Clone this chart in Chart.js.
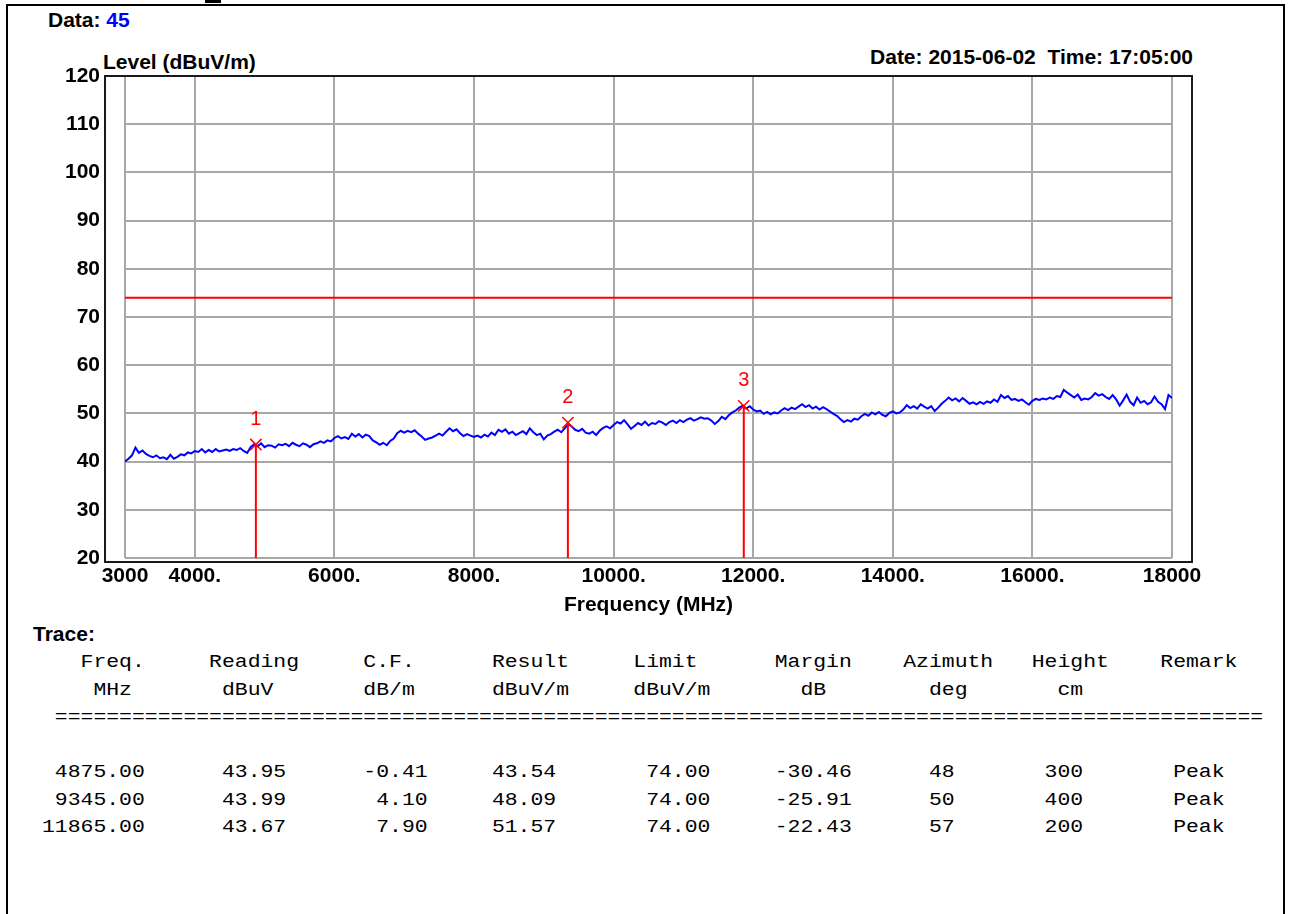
<!DOCTYPE html>
<html>
<head>
<meta charset="utf-8">
<script src="https://cdn.jsdelivr.net/npm/chart.js@4.4.1/dist/chart.umd.min.js"></script>
<style>
body{margin:0;background:#fff;width:1289px;height:914px;overflow:hidden;position:relative;font-family:"Liberation Sans",Arial,sans-serif;}
.frame{position:absolute;left:6px;top:4px;width:1275px;height:940px;border:2px solid #000;border-bottom:none;}
.dash{position:absolute;left:205px;top:0;width:16px;height:3px;background:#000;}
.lbl{position:absolute;font-weight:bold;font-size:21px;line-height:24px;color:#000;white-space:pre;}
#chart{position:absolute;left:0;top:0;}
#trace{position:absolute;left:42px;top:649px;margin:0;font-family:"Liberation Mono","DejaVu Sans Mono",monospace;font-size:18px;line-height:27.5px;color:#000;transform:scaleX(1.19);transform-origin:0 0;}
</style>
</head>
<body>
<div class="frame"></div>
<div class="dash"></div>
<div class="lbl" style="left:48px;top:8px">Data: <span style="color:#0000ff">45</span></div>
<div class="lbl" style="left:103px;top:50px">Level (dBuV/m)</div>
<div class="lbl" style="right:96px;top:45px">Date: 2015-06-02  Time: 17:05:00</div>
<div class="lbl" style="left:33px;top:622px">Trace:</div>
<canvas id="chart" width="1289" height="620"></canvas>
<pre id="trace"></pre>
<script>
// sweep: 3000 - 18000 MHz, one reading every 50 MHz
const startFreq = 3000;
const stepFreq = 50;
const levels = [
  // 3000
  40.0, 40.6, 41.3, 42.9, 41.8, 42.3, 41.6, 41.2, 40.9, 41.3,
  40.7, 40.9, 40.5, 41.4, 40.6, 41.0, 41.5, 41.3, 41.9, 41.7,
  // 4000
  42.2, 42.0, 42.6, 41.9, 42.4, 42.0, 42.6, 42.1, 42.3, 42.5,
  42.2, 42.6, 42.4, 42.8, 42.2, 41.8, 43.0, 43.6, 43.2, 43.8,
  // 5000
  43.0, 43.4, 43.3, 42.9, 43.6, 43.4, 43.7, 43.2, 43.9, 43.5,
  43.2, 43.8, 43.5, 43.0, 43.6, 43.8, 44.2, 43.9, 44.4, 44.2,
  // 6000
  44.9, 45.3, 44.8, 45.1, 44.7, 45.8, 45.2, 45.7, 45.0, 45.6,
  45.3, 44.4, 44.0, 43.5, 43.9, 43.4, 44.3, 44.8, 45.9, 46.4,
  // 7000
  46.0, 46.4, 46.1, 46.5, 45.8, 45.2, 44.5, 44.8, 45.0, 45.4,
  45.8, 45.4, 46.2, 46.9, 46.3, 46.7, 45.9, 45.3, 45.7, 45.4,
  // 8000
  45.1, 45.4, 45.0, 45.6, 45.2, 46.0, 45.5, 46.6, 46.2, 46.7,
  45.8, 46.2, 45.5, 45.9, 46.3, 45.7, 46.9, 46.1, 45.5, 45.8,
  // 9000
  44.6, 45.4, 45.7, 46.2, 46.6, 46.1, 46.9, 47.8, 47.3, 46.6,
  46.3, 46.8, 46.0, 45.8, 46.2, 45.5, 46.4, 47.0, 47.3, 46.9,
  // 10000
  47.6, 48.2, 47.9, 48.6, 47.7, 46.8, 47.4, 48.0, 47.6, 48.3,
  47.5, 48.0, 47.8, 48.4, 48.1, 47.6, 48.2, 48.5, 48.0, 48.6,
  // 11000
  48.2, 48.7, 49.0, 48.5, 48.8, 49.2, 48.9, 49.0, 48.5, 47.8,
  48.4, 49.3, 48.8, 49.6, 50.2, 50.6, 51.2, 51.6, 51.0, 51.5,
  // 12000
  50.8, 50.4, 50.6, 49.9, 50.3, 49.8, 50.2, 50.0, 50.6, 51.1,
  50.7, 51.2, 50.9, 51.4, 51.9, 51.3, 51.7, 51.0, 51.4, 50.8,
  // 13000
  51.3, 50.9, 50.4, 49.9, 49.5, 48.8, 48.2, 48.6, 48.3, 48.9,
  48.7, 49.4, 49.9, 49.5, 50.2, 49.8, 50.3, 49.7, 49.4, 50.1,
  // 14000
  50.4, 50.0, 50.2, 50.8, 51.7, 51.1, 51.5, 51.0, 51.9, 51.4,
  51.0, 51.5, 50.5, 51.2, 52.0, 52.6, 53.3, 52.7, 53.1, 52.5,
  // 15000
  53.2, 52.6, 52.0, 52.3, 51.9, 52.4, 52.0, 52.5, 52.2, 52.9,
  52.4, 53.8, 53.2, 53.6, 52.8, 53.0, 52.6, 52.9, 52.3, 51.8,
  // 16000
  52.6, 53.0, 52.8, 53.1, 52.9, 53.3, 53.0, 53.6, 53.4, 54.9,
  54.3, 53.8, 53.3, 53.9, 52.8, 53.1, 52.9, 53.4, 54.2, 53.7,
  // 17000
  54.0, 53.4, 53.0, 53.8, 52.9, 51.6, 52.7, 53.9, 52.4, 51.7,
  53.3, 52.2, 52.6, 51.9, 52.3, 53.5, 52.4, 51.9, 50.9, 53.8,
  // 18000
  53.2
];
const limitLevel = 74;

// marker table
const markerFreq = [4875.00, 9345.00, 11865.00];
const reading = [43.95, 43.99, 43.67];
const corrFactor = [-0.41, 4.10, 7.90];
const result = [43.54, 48.09, 51.57];
const limits = [74.00, 74.00, 74.00];
const margin = [-30.46, -25.91, -22.43];
const azimuth = [48, 50, 57];
const heightCm = [300, 400, 200];
const remark = ['Peak', 'Peak', 'Peak'];

const xTickValues = [3000, 4000, 6000, 8000, 10000, 12000, 14000, 16000, 18000];
const xTickLabels = ['3000', '4000.', '6000.', '8000.', '10000.', '12000.', '14000.', '16000.', '18000'];

const tracePoints = levels.map((v, i) => ({x: startFreq + i * stepFreq, y: v}));

const frameBox = {
  id: 'frameBox',
  afterDraw(chart) {
    const a = chart.chartArea;
    const ctx = chart.ctx;
    ctx.save();
    ctx.strokeStyle = '#1a1a1a';
    ctx.lineWidth = 2;
    ctx.strokeRect(a.left - 20, a.top, a.right - a.left + 40, a.bottom - a.top + 4);
    ctx.restore();
  }
};

const markerNumbers = {
  id: 'markerNumbers',
  afterDatasetsDraw(chart) {
    const ctx = chart.ctx;
    ctx.save();
    ctx.fillStyle = '#ff0000';
    ctx.font = '20px "Liberation Sans", Arial, sans-serif';
    ctx.textAlign = 'center';
    ctx.textBaseline = 'middle';
    markerFreq.forEach((f, i) => {
      const x = chart.scales.x.getPixelForValue(f);
      const y = chart.scales.y.getPixelForValue(result[i]);
      ctx.fillText(String(i + 1), x, y - 25);
    });
    ctx.restore();
  }
};

const markerLines = markerFreq.map((f, i) => ({
  type: 'line',
  data: [{x: f, y: 20}, {x: f, y: result[i]}],
  borderColor: '#ff0000',
  borderWidth: 2,
  pointRadius: 0,
  order: 1
}));

const tickFont = {family: '"Liberation Sans", Arial, sans-serif', size: 21, weight: 'bold'};

new Chart(document.getElementById('chart'), {
  type: 'line',
  data: {
    datasets: [
      {
        type: 'scatter',
        data: markerFreq.map((f, i) => ({x: f, y: result[i]})),
        pointStyle: 'crossRot',
        pointRadius: 8,
        borderColor: '#ff0000',
        borderWidth: 1.5,
        showLine: false,
        order: 0
      },
      ...markerLines,
      {
        data: tracePoints,
        borderColor: '#0000ff',
        borderWidth: 2,
        pointRadius: 0,
        tension: 0,
        order: 2
      },
      {
        data: [{x: startFreq, y: limitLevel}, {x: 18000, y: limitLevel}],
        borderColor: '#ff0000',
        borderWidth: 2,
        pointRadius: 0,
        order: 3
      }
    ]
  },
  options: {
    responsive: false,
    animation: false,
    events: [],
    layout: {padding: {left: 0, right: 117, top: 76, bottom: 0}},
    plugins: {legend: {display: false}, tooltip: {enabled: false}},
    scales: {
      x: {
        type: 'linear',
        min: 3000,
        max: 18000,
        afterBuildTicks(scale) {
          scale.ticks = xTickValues.map(v => ({value: v}));
        },
        afterFit(scale) { scale.height = 62; },
        ticks: {
          autoSkip: false,
          maxRotation: 0,
          padding: 6,
          color: '#000',
          font: tickFont,
          callback: (value) => xTickLabels[xTickValues.indexOf(value)]
        },
        grid: {color: '#a8a8a8', lineWidth: 2, drawTicks: false},
        border: {display: false},
        title: {display: true, text: 'Frequency (MHz)', color: '#000', font: tickFont, padding: {top: 0, bottom: 2}}
      },
      y: {
        min: 20,
        max: 120,
        afterFit(scale) { scale.width = 125; },
        ticks: {stepSize: 10, padding: 25, color: '#000', font: tickFont},
        grid: {color: '#a8a8a8', lineWidth: 2, drawTicks: false},
        border: {display: false}
      }
    }
  },
  plugins: [frameBox, markerNumbers]
});

// table of marker readings, fixed columns
const headCols = [3, 13, 25, 35, 46, 57, 67, 77, 87];
const head1 = ['Freq.', 'Reading', 'C.F.', 'Result', 'Limit', 'Margin', 'Azimuth', 'Height', 'Remark'];
const unitCols = [4, 14, 25, 35, 46, 59, 69, 79, 87];
const head2 = ['MHz', 'dBuV', 'dB/m', 'dBuV/m', 'dBuV/m', 'dB', 'deg', 'cm', ''];
const rowEnds = [8, 19, 30, 40, 52, 63, 71, 81, 92];

function placeLeft(cols, texts) {
  let s = '';
  texts.forEach((t, i) => {
    while (s.length < cols[i]) s += ' ';
    s += t;
  });
  return s;
}
function placeRight(ends, texts) {
  let s = '';
  texts.forEach((t, i) => {
    while (s.length + t.length < ends[i]) s += ' ';
    s += t;
  });
  return s;
}

const lines = [];
lines.push(placeLeft(headCols, head1));
lines.push(placeLeft(unitCols, head2));
lines.push(' ' + '='.repeat(94));
lines.push('');
markerFreq.forEach((f, i) => {
  lines.push(placeRight(rowEnds, [
    f.toFixed(2), reading[i].toFixed(2), corrFactor[i].toFixed(2), result[i].toFixed(2),
    limits[i].toFixed(2), margin[i].toFixed(2), String(azimuth[i]), String(heightCm[i]), remark[i]
  ]));
});
document.getElementById('trace').textContent = lines.join('\n');
</script>
</body>
</html>
